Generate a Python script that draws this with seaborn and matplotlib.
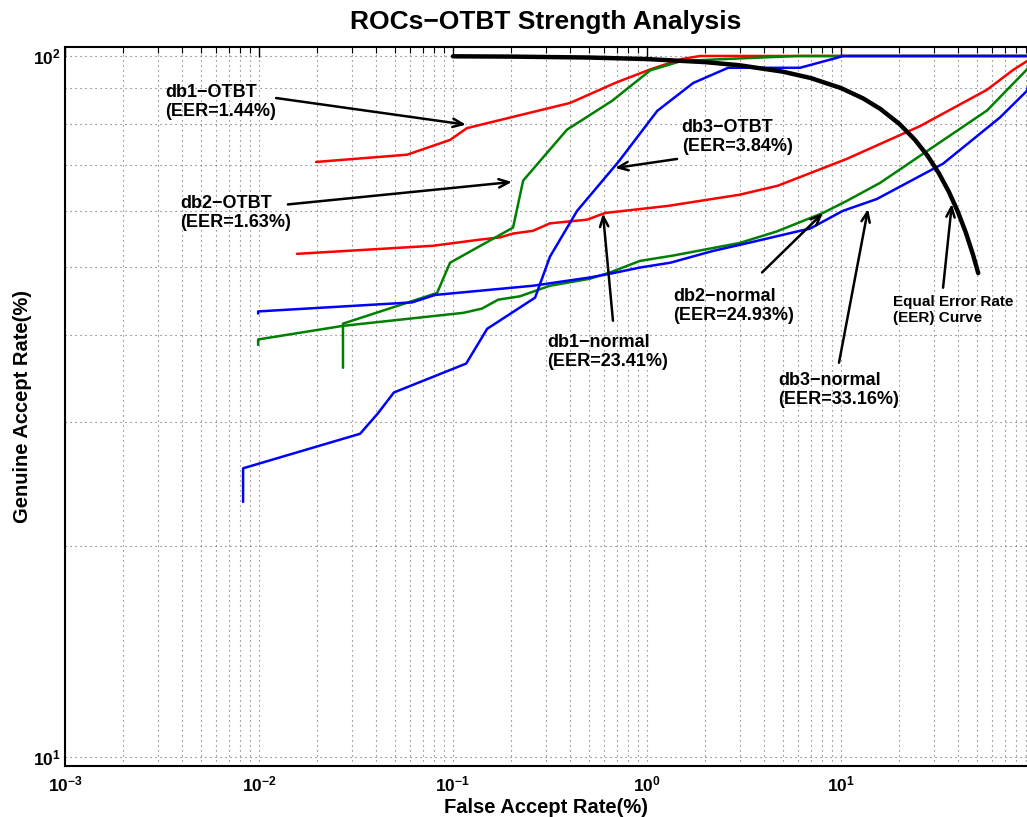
import numpy as np
import pandas as pd
import matplotlib
matplotlib.use('Agg')
import matplotlib.pyplot as plt
import seaborn as sns
from matplotlib.ticker import LogLocator, FuncFormatter, NullFormatter

# ---- values: FAR (%) and GAR (%) ----
db1_otbt_far = [0.0197, 0.058, 0.0966, 0.118, 0.401, 0.684, 1.04, 1.51, 1.88, 100]
db1_otbt_gar = [70.6, 72.3, 75.9, 78.9, 85.7, 91.5, 95.7, 99.0, 100, 100]

db1_norm_far = [0.0157, 0.0789, 0.138, 0.175, 0.204, 0.258, 0.316, 0.491, 0.608,
                1.28, 3.01, 4.73, 10.7, 25.5, 56.6, 77.1, 100]
db1_norm_gar = [52.2, 53.6, 54.7, 55.1, 55.8, 56.3, 57.7, 58.4, 59.7,
                61.1, 63.4, 65.3, 71.3, 79.4, 89.5, 95.5, 100]

db2_otbt_far = [0.0271, 0.0271, 0.0828, 0.0966, 0.204, 0.230, 0.387, 0.661, 1.04, 1.51, 5.93, 100]
db2_otbt_gar = [35.9, 41.5, 45.9, 50.7, 56.9, 66.4, 78.5, 86.3, 95.4, 98.4, 100, 100]

db2_norm_far = [0.0099, 0.0099, 0.0271, 0.113, 0.141, 0.171, 0.221, 0.316, 0.508, 0.645,
                0.920, 1.36, 3.01, 4.68, 8.07, 10.7, 15.9, 25.5, 56.6, 91, 100]
db2_norm_gar = [38.7, 39.4, 41.2, 43.0, 43.6, 44.9, 45.4, 47.0, 48.1, 49.1,
                51.0, 51.9, 54.1, 56.2, 59.7, 62.1, 65.9, 72.0, 83.6, 95.7, 100]

db3_otbt_far = [0.00828, 0.00828, 0.0332, 0.0410, 0.0496, 0.117, 0.150, 0.265, 0.316,
                0.436, 0.718, 1.13, 1.73, 2.62, 6.15, 9.53, 10.2, 100]
db3_otbt_gar = [23.1, 25.8, 28.9, 30.9, 33.1, 36.4, 40.8, 45.2, 51.7,
                60.1, 70.8, 83.5, 91.5, 96.2, 96.2, 99.4, 100, 100]

db3_norm_far = [0.0099, 0.0099, 0.0615, 0.0807, 0.258, 0.508, 0.645, 0.920, 1.32, 2.19,
                3.52, 6.15, 6.92, 10.2, 15.3, 33.6, 66.0, 91, 100]
db3_norm_gar = [42.9, 43.2, 44.5, 45.6, 47.0, 48.3, 48.9, 49.9, 50.7, 52.7,
                54.3, 56.3, 56.7, 60.1, 62.5, 70.2, 81.7, 89.2, 100]

# equal error rate curve (FAR = FRR)
eer_far = [0.1, 0.2, 0.5, 1, 2, 3, 5, 7, 10, 13, 16, 20, 24, 28, 32, 36, 40, 44, 48, 51]
eer_gar = [99.9, 99.8, 99.5, 99, 98, 97, 95, 93, 90, 87, 84, 80, 76, 72, 68, 64, 60, 56, 52, 49]

curve_names = ['db1-OTBT', 'db1-normal', 'db2-OTBT', 'db2-normal', 'db3-OTBT', 'db3-normal']
curve_colors = ['#ff0000', '#ff0000', '#008000', '#008000', '#0000ff', '#0000ff']

series = [(db1_otbt_far, db1_otbt_gar), (db1_norm_far, db1_norm_gar),
          (db2_otbt_far, db2_otbt_gar), (db2_norm_far, db2_norm_gar),
          (db3_otbt_far, db3_otbt_gar), (db3_norm_far, db3_norm_gar)]

frames = []
for name, (far, gar) in zip(curve_names, series):
    frames.append(pd.DataFrame({'curve': name, 'far': far, 'gar': gar}))
df = pd.concat(frames, ignore_index=True)
df_eer = pd.DataFrame({'far': eer_far, 'gar': eer_gar})

# ---- style ----
sns.set_theme(style='white')
plt.rcParams['font.family'] = ['Liberation Sans', 'DejaVu Sans']
plt.rcParams['mathtext.fontset'] = 'custom'
plt.rcParams['mathtext.rm'] = 'Liberation Sans'
plt.rcParams['mathtext.bf'] = 'Liberation Sans:bold'
plt.rcParams['text.color'] = 'black'
plt.rcParams['axes.labelcolor'] = 'black'
plt.rcParams['xtick.color'] = 'black'
plt.rcParams['ytick.color'] = 'black'

fig = plt.figure(figsize=(10.27, 8.17), dpi=100)
ax = fig.add_axes([65 / 1027, 1 - 766 / 817, 1 - 65 / 1027, (766 - 47) / 817])

sns.lineplot(data=df, x='far', y='gar', hue='curve', hue_order=curve_names,
             palette=dict(zip(curve_names, curve_colors)), sort=False,
             estimator=None, legend=False, linewidth=1.8, ax=ax)
sns.lineplot(data=df_eer, x='far', y='gar', color='black', sort=False,
             estimator=None, linewidth=3.2, ax=ax)

ax.set_xscale('log')
ax.set_yscale('log')
ax.set_xlim(1e-3, 91)
ax.set_ylim(9.7, 103)

ax.xaxis.set_major_locator(LogLocator(base=10))
ax.xaxis.set_minor_locator(LogLocator(base=10, subs=np.arange(2, 10)))
ax.yaxis.set_major_locator(LogLocator(base=10))
ax.yaxis.set_minor_locator(LogLocator(base=10, subs=np.arange(2, 10)))
fmt = FuncFormatter(lambda v, p: r'$\mathbf{10^{%d}}$' % int(round(np.log10(v))))
ax.xaxis.set_major_formatter(fmt)
ax.yaxis.set_major_formatter(fmt)
ax.xaxis.set_minor_formatter(NullFormatter())
ax.yaxis.set_minor_formatter(NullFormatter())

ax.grid(True, which='both', linestyle=(0, (1, 3.5)), color='0.4', linewidth=0.8)
ax.tick_params(which='both', direction='in', top=True, right=False, colors='black')
ax.tick_params(which='major', length=7, width=1, labelsize=12.5)
ax.tick_params(axis='x', which='major', pad=6)
ax.tick_params(axis='y', which='major', pad=3)
ax.tick_params(which='minor', length=4, width=0.8)
for s in ['left', 'bottom', 'top']:
    ax.spines[s].set_linewidth(1.5)
    ax.spines[s].set_color('black')
ax.spines['right'].set_visible(False)

ax.set_title('ROCs\u2212OTBT Strength Analysis', fontsize=19, fontweight='bold', pad=13)
ax.set_xlabel('False Accept Rate(%)', fontsize=14.5, fontweight='bold', labelpad=3)
ax.set_ylabel('Genuine Accept Rate(%)', fontsize=14.5, fontweight='bold')
ax.yaxis.set_label_coords(-0.034, 0.5)

# ---- annotations: label, text position, arrow tail, arrow head, size ----
notes = [
    ('db1\u2212OTBT\n(EER=1.44%)', (0.00327, 85.9), (0.01225, 87.1), (0.1167, 79.8), 13),
    ('db2\u2212OTBT\n(EER=1.63%)', (0.00392, 59.7), (0.01409, 61.4), (0.2014, 66.1), 13),
    ('db3\u2212OTBT\n(EER=3.84%)', (1.51, 76.7), (1.43, 71.3), (0.684, 69.2), 13),
    ('db1\u2212normal\n(EER=23.41%)', (0.3055, 37.8), (0.668, 41.9), (0.593, 59.6), 13),
    ('db2\u2212normal\n(EER=24.93%)', (1.36, 44.0), (3.92, 49.1), (8.07, 59.7), 13),
    ('db3\u2212normal\n(EER=33.16%)', (4.73, 33.4), (9.77, 36.5), (13.8, 60.5), 13),
    ('Equal Error Rate\n(EER) Curve', (18.5, 43.4), (33.6, 46.7), (37.3, 61.5), 11),
]
for label, txy, tail, head, size in notes:
    ax.text(txy[0], txy[1], label, fontsize=size, fontweight='bold',
            ha='left', va='center', linespacing=1.15)
    ax.annotate('', xy=head, xytext=tail,
                arrowprops=dict(arrowstyle='->,head_length=0.6,head_width=0.25',
                                lw=1.8, color='black', shrinkA=0, shrinkB=0))

fig.savefig('out.png', dpi=100)
